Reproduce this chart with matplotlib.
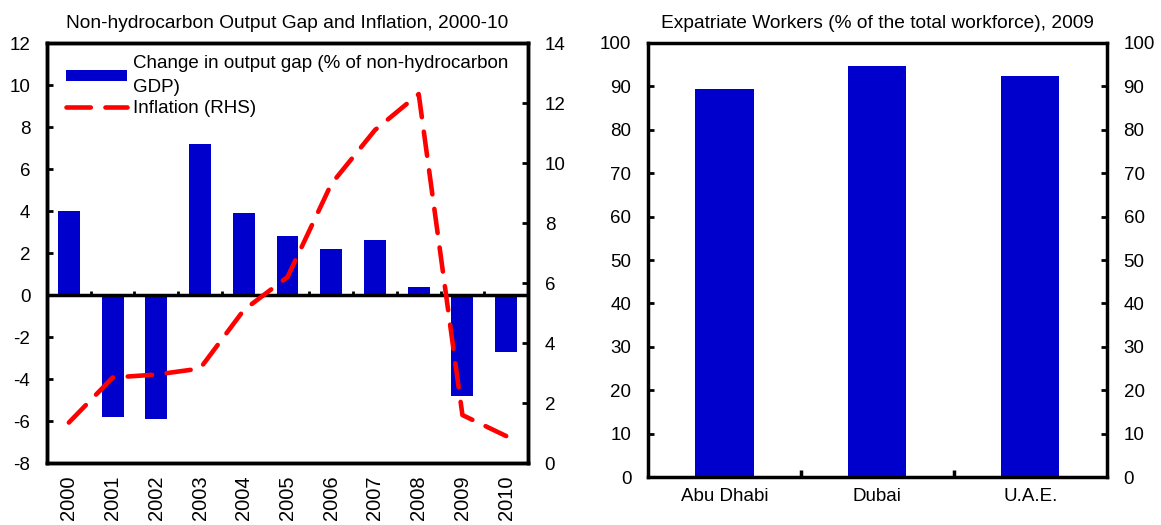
import numpy as np
import matplotlib
matplotlib.use("Agg")
import matplotlib.pyplot as plt

plt.rcParams['font.family'] = ['Liberation Sans', 'DejaVu Sans']
plt.rcParams['font.size'] = 13.5
plt.rcParams['axes.unicode_minus'] = False

# left panel data
years = ['2000', '2001', '2002', '2003', '2004', '2005', '2006', '2007', '2008', '2009', '2010']
gap_change = [4.0, -5.8, -5.9, 7.2, 3.9, 2.8, 2.2, 2.6, 0.4, -4.8, -2.7]
inflation = [1.35, 2.85, 2.95, 3.15, 5.1, 6.2, 9.3, 11.1, 12.3, 1.6, 0.9]

# right panel data
emirates = ['Abu Dhabi', 'Dubai', 'U.A.E.']
expat_share = [89.3, 94.8, 92.5]

blue = '#0000CC'
red = '#FF0000'
spine_w = 2.5

fig = plt.figure(figsize=(11.61, 5.25), dpi=100)

# ---- left chart
ax = fig.add_axes([0.0405, 0.118, 0.4143, 0.800])
x = np.arange(len(years))
bars = ax.bar(x, gap_change, width=0.5, color=blue, zorder=2,
              label='Change in output gap (% of non-hydrocarbon\nGDP)')
ax.set_xlim(-0.5, len(years) - 0.5)
ax.set_ylim(-8, 12)
ax.set_yticks(np.arange(-8, 13, 2))
ax.set_xticks(x)
ax.set_xticklabels(years, rotation=90, fontsize=14.5)
ax.tick_params(axis='x', length=0, pad=9)
ax.tick_params(axis='y', direction='in', length=4, width=2, pad=12)
ax.axhline(0, color='black', lw=spine_w, zorder=3)
# small ticks on the zero line between categories
ax.vlines(x[:-1] + 0.5, 0, 0.2, color='black', lw=2, zorder=3)
for s in ax.spines.values():
    s.set_linewidth(spine_w)

ax2 = ax.twinx()
line, = ax2.plot(x, inflation, color=red, lw=3.3, linestyle=(0, (5.3, 3.2)),
                 dash_capstyle='round', zorder=4, label='Inflation (RHS)')
ax2.set_ylim(0, 14)
ax2.set_yticks(np.arange(0, 15, 2))
ax2.tick_params(axis='y', direction='in', length=4, width=2, pad=12)
for s in ax2.spines.values():
    s.set_linewidth(spine_w)

leg = ax2.legend([bars, line], [bars.get_label(), line.get_label()],
                 loc='upper left', bbox_to_anchor=(0.04, 0.972),
                 frameon=False, handlelength=3.25, handleheight=0.55,
                 handletextpad=0.33, borderaxespad=0, borderpad=0,
                 labelspacing=0.22)
leg.get_texts()[0].set_linespacing(1.55)
ax.set_title('Non-hydrocarbon Output Gap and Inflation, 2000-10',
             fontsize=13.8, pad=11)

# ---- right chart
bx = fig.add_axes([0.5581, 0.0914, 0.3953, 0.8267])
xe = np.arange(len(emirates))
bx.bar(xe, expat_share, width=0.38, color=blue, zorder=2)
bx.set_xlim(-0.5, len(emirates) - 0.5)
bx.set_ylim(0, 100)
bx.set_yticks(np.arange(0, 101, 10))
bx.set_xticks(xe)
bx.set_xticklabels(emirates)
bx.set_xticks(xe[:-1] + 0.5, minor=True)
bx.tick_params(axis='x', which='major', length=0, pad=8)
bx.tick_params(axis='x', which='minor', direction='in', length=5, width=2.5)
bx.tick_params(axis='y', direction='in', length=4, width=2, pad=12,
               right=True, labelright=True)
for s in bx.spines.values():
    s.set_linewidth(spine_w)
bx.set_title('Expatriate Workers (% of the total workforce), 2009',
             fontsize=13.8, pad=11)

fig.savefig('out.png', dpi=100)
